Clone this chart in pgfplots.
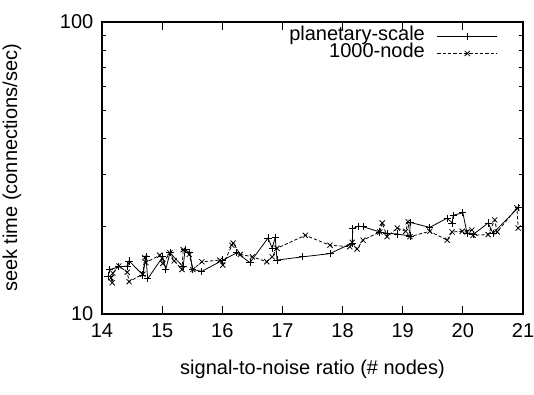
\documentclass[border=0pt]{standalone}
\usepackage{pgfplots}
\pgfplotsset{compat=1.18}
\usepackage{fontspec}
\setmainfont{Liberation Sans}
\begin{document}
\begin{tikzpicture}
\path[use as bounding box] (0,0) rectangle (400.5pt,295.5pt);
\begin{axis}[
  at={(76.5pt,60pt)}, anchor=south west,
  scale only axis, width=315.75pt, height=219pt,
  ymode=log, xmin=14, xmax=21, ymin=10, ymax=100,
  xtick={14,15,16,17,18,19,20,21},
  xticklabels={14,15,16,17,18,19,20,21},
  ytick={10,100}, yticklabels={10,100},
  minor ytick={20,30,40,50,60,70,80,90},
  tick align=inside, major tick length=6pt, minor tick length=3pt,
  tick style={black, line width=0.6pt},
  axis line style={black, line width=0.8pt},
  xtick pos=both, ytick pos=both,
  every tick label/.append style={font=\fontsize{15}{17}\selectfont},
  xticklabel style={yshift=-3.5pt},
  yticklabel style={xshift=-3pt},
  label style={font=\fontsize{15}{17}\selectfont},
  xlabel={signal-to-noise ratio (\# nodes)},
  ylabel={seek time (connections/sec)},
  xlabel style={at={(axis description cs:0.5,-0.1884)}, anchor=center},
  ylabel style={at={(axis description cs:-0.2138,0.5)}, anchor=center},
  legend plot pos=right, legend cell align=right,
  legend style={draw=none, fill=none, at={(0.95,0.99)}, anchor=north east,
    font=\fontsize{15}{17}\selectfont,
    nodes={inner ysep=0pt, inner xsep=2pt, text height=9.8pt, text depth=3pt}},
  legend image code/.code={\path (0pt,0pt); \draw[mark repeat=2,mark phase=2,#1] plot coordinates {(7pt,0pt) (29.5pt,0pt) (52pt,0pt)};},
]
\addplot[black, line width=0.6pt, mark=+, mark size=2.7pt, mark options={solid}] coordinates {
(14.10,13.5) (14.13,14.2) (14.28,14.5) (14.43,14.6) (14.45,15.2) (14.68,13.6)
(14.73,15.7) (14.76,13.2) (15.01,15.7) (15.06,14.2) (15.13,16.2) (15.35,14.5)
(15.38,16.6) (15.46,16.2) (15.51,14.2) (15.66,14.0) (16.01,15.3) (16.24,16.2)
(16.46,15.0) (16.76,18.2) (16.83,16.8) (16.88,18.3) (16.91,15.3) (17.34,15.7)
(17.79,16.1) (18.16,17.5) (18.17,19.6) (18.26,20.0) (18.34,19.9) (18.62,19.1)
(18.74,18.9) (18.91,18.8) (19.12,18.5) (19.12,20.6) (19.45,19.8) (19.74,21.3)
(19.82,20.5) (19.84,21.8) (20.00,22.2) (20.07,18.9) (20.17,18.7) (20.42,20.5)
(20.50,18.9) (20.92,23.1)
};
\addlegendentry{planetary-scale}
\addplot[black, line width=0.6pt, dash pattern=on 2.5pt off 1.5pt, mark=x, mark size=2.7pt, mark options={solid}] coordinates {
(14.15,13.3) (14.17,12.8) (14.18,13.8) (14.28,14.6) (14.42,13.9) (14.45,12.9)
(14.68,13.7) (14.71,15.6) (14.73,15.0) (14.96,15.9) (15.01,14.9) (15.13,16.2)
(15.20,15.2) (15.33,14.2) (15.35,16.6) (15.45,16.0) (15.51,14.2) (15.66,15.1)
(15.96,15.3) (16.01,14.7) (16.16,17.2) (16.18,17.5) (16.30,16.0) (16.50,15.7)
(16.74,15.1) (16.83,15.7) (16.91,16.8) (17.38,18.6) (17.79,17.2) (18.12,17.0)
(18.16,17.6) (18.24,16.7) (18.34,17.9) (18.62,19.1) (18.66,20.5) (18.74,18.4)
(18.91,19.7) (19.05,19.2) (19.09,20.7) (19.12,18.4) (19.45,19.2) (19.74,17.9)
(19.82,19.1) (19.99,19.2) (20.07,19.1) (20.15,19.4) (20.17,18.6) (20.42,18.7)
(20.53,21.0) (20.57,19.1) (20.90,23.1) (20.92,19.7)
};
\addlegendentry{1000-node}
\end{axis}
\end{tikzpicture}
\end{document}
